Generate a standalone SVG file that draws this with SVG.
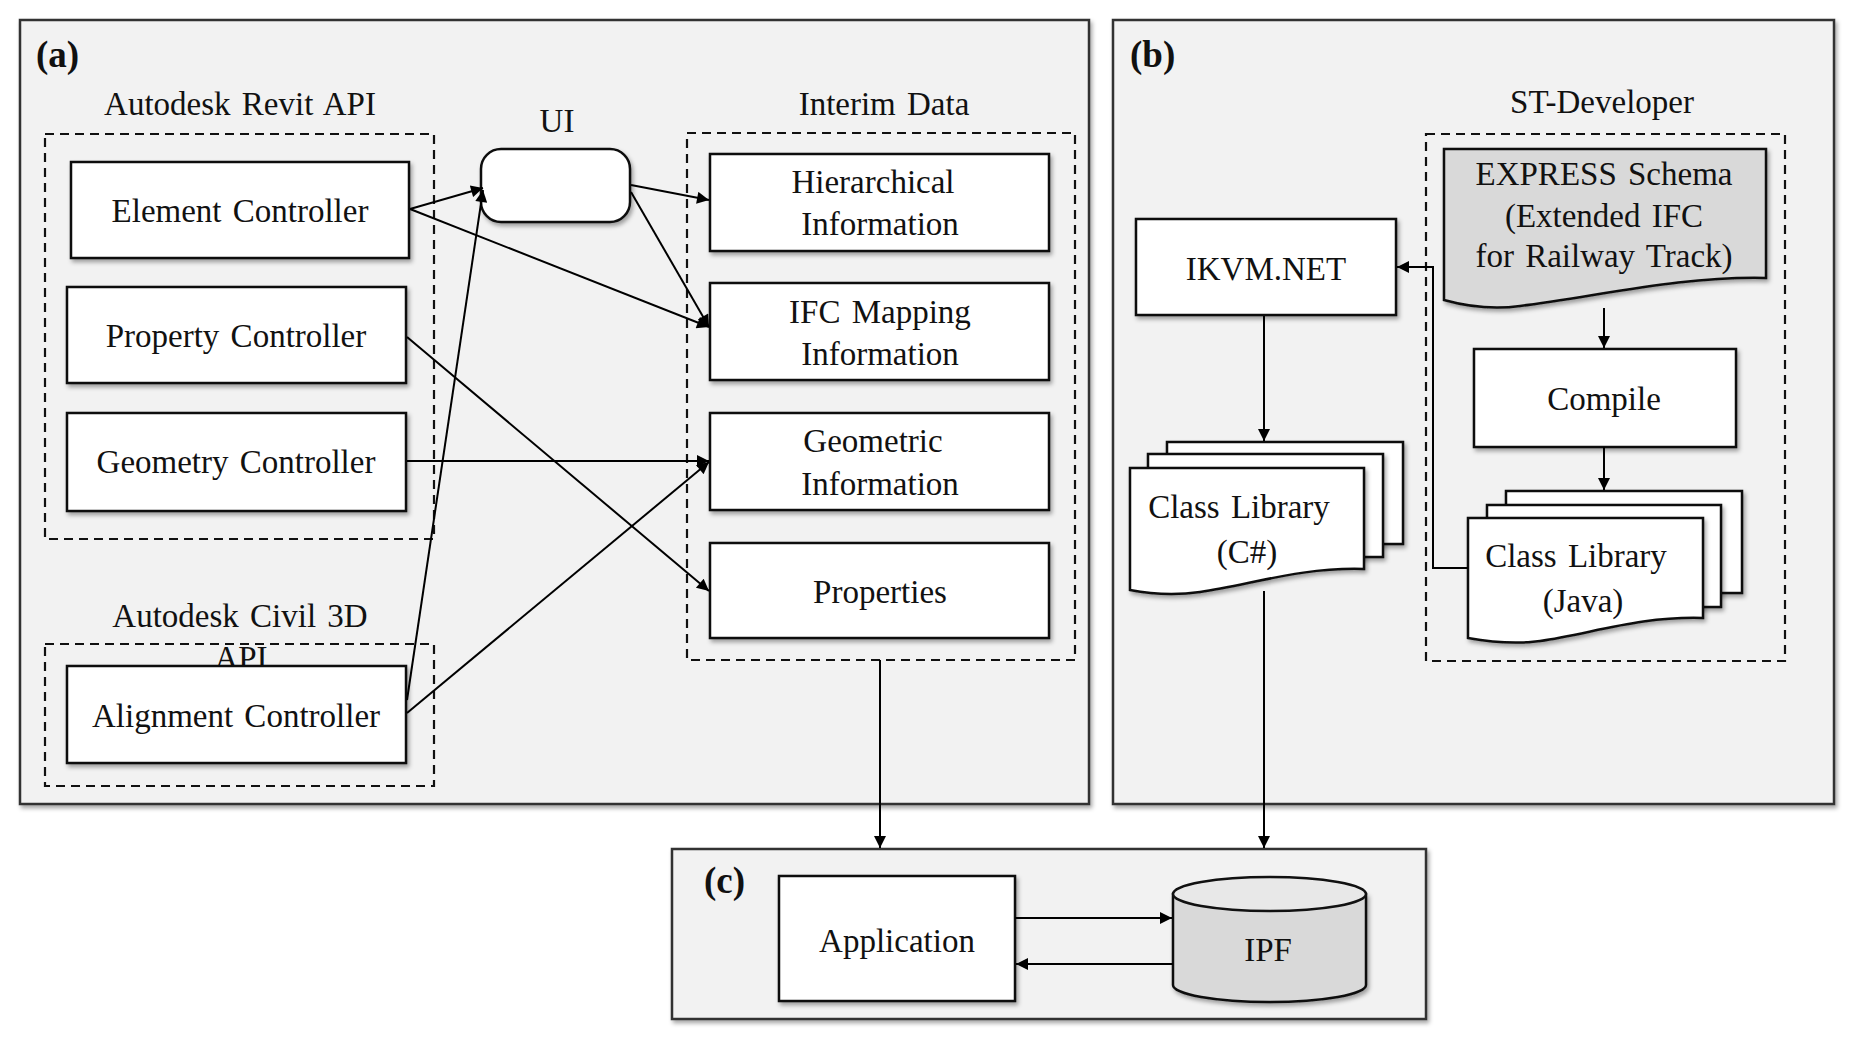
<svg xmlns="http://www.w3.org/2000/svg" width="1854" height="1046" viewBox="0 0 1854 1046">
<defs>
<filter id="sh" x="-10%" y="-10%" width="130%" height="130%">
<feDropShadow dx="2" dy="3" stdDeviation="2" flood-color="#000" flood-opacity="0.35"/>
</filter>
<marker id="ah" viewBox="0 0 10 10" refX="10" refY="5" markerWidth="15" markerHeight="12" markerUnits="userSpaceOnUse" orient="auto">
<path d="M0,0 L10,5 L0,10 z" fill="#000"/>
</marker>
<style>
.panel{fill:#f2f2f2;stroke:#333;stroke-width:2.5;filter:url(#sh)}
.box{fill:#fff;stroke:#111;stroke-width:2.5;filter:url(#sh)}
.gray{fill:#d9d9d9;stroke:#111;stroke-width:2.5;filter:url(#sh)}
.dash{fill:none;stroke:#111;stroke-width:2.2;stroke-dasharray:9,6}
.t{font-family:"Liberation Serif","Times New Roman",serif;font-size:33px;fill:#111;text-anchor:middle;word-spacing:3px}
.lbl{font-family:"Liberation Serif","Times New Roman",serif;font-size:37px;font-weight:bold;fill:#111}
.c{fill:none;stroke:#000;stroke-width:2}
.ca{fill:none;stroke:#000;stroke-width:2;marker-end:url(#ah)}
</style>
</defs>
<rect width="1854" height="1046" fill="#fff"/>

<g id="panel-a">
<rect class="panel" x="20" y="20" width="1069" height="784"/>
<text class="lbl" x="36" y="67">(a)</text>
</g>
<g id="panel-b">
<rect class="panel" x="1113" y="20" width="721" height="784"/>
<text class="lbl" x="1130" y="67">(b)</text>
</g>
<g id="panel-c">
<rect class="panel" x="672" y="849" width="754" height="170"/>
<text class="lbl" x="704" y="893">(c)</text>
</g>

<g id="revit-api">
<text class="t" x="240" y="115">Autodesk Revit API</text>
<rect class="dash" x="45" y="134" width="389" height="405"/>
</g>
<g id="civil3d-api">
<text class="t" x="240" y="627">Autodesk Civil 3D</text>
<text class="t" x="241" y="669">API</text>
<rect class="dash" x="45" y="644" width="389" height="142"/>
</g>
<g id="interim-data">
<text class="t" x="884" y="115">Interim Data</text>
<rect class="dash" x="687" y="133" width="388" height="527"/>
</g>
<g id="st-developer">
<text class="t" x="1602" y="113">ST-Developer</text>
<rect class="dash" x="1426" y="134" width="359" height="527"/>
</g>

<g id="element-controller">
<rect class="box" x="71" y="162" width="338" height="96"/>
<text class="t" x="240" y="222">Element Controller</text>
</g>
<g id="property-controller">
<rect class="box" x="67" y="287" width="339" height="96"/>
<text class="t" x="236" y="347">Property  Controller</text>
</g>
<g id="geometry-controller">
<rect class="box" x="67" y="413" width="339" height="98"/>
<text class="t" x="236" y="473">Geometry  Controller</text>
</g>
<g id="alignment-controller">
<rect class="box" x="67" y="666" width="339" height="97"/>
<text class="t" x="236" y="727">Alignment  Controller</text>
</g>
<g id="ui">
<text class="t" x="557" y="132">UI</text>
<rect class="box" x="481" y="149" width="149" height="73" rx="20" ry="20"/>
</g>
<g id="hierarchical-information">
<rect class="box" x="710" y="154" width="339" height="97"/>
<text class="t" x="873" y="193">Hierarchical</text>
<text class="t" x="880" y="235">Information</text>
</g>
<g id="ifc-mapping-information">
<rect class="box" x="710" y="283" width="339" height="97"/>
<text class="t" x="880" y="323">IFC Mapping</text>
<text class="t" x="880" y="365">Information</text>
</g>
<g id="geometric-information">
<rect class="box" x="710" y="413" width="339" height="97"/>
<text class="t" x="873" y="452">Geometric</text>
<text class="t" x="880" y="495">Information</text>
</g>
<g id="properties">
<rect class="box" x="710" y="543" width="339" height="95"/>
<text class="t" x="880" y="603">Properties</text>
</g>

<g id="ikvm-net">
<rect class="box" x="1136" y="219" width="260" height="96"/>
<text class="t" x="1266" y="280">IKVM.NET</text>
</g>
<g id="express-schema">
<path class="gray" d="M1444,149 H1766 V278 C1680,276 1600,296 1520,306 C1490,310 1462,305 1444,300 Z"/>
<text class="t" x="1604" y="185">EXPRESS Schema</text>
<text class="t" x="1604" y="227">(Extended IFC</text>
<text class="t" x="1604" y="267">for Railway  Track)</text>
</g>
<g id="compile">
<rect class="box" x="1474" y="349" width="262" height="98"/>
<text class="t" x="1604" y="410">Compile</text>
</g>
<g id="class-library-csharp">
<rect class="box" x="1167" y="442" width="236" height="102"/>
<rect class="box" x="1148" y="454" width="235" height="103"/>
<path class="box" d="M1130,468 H1364 V569 C1300,567 1250,585 1200,592 C1170,596 1146,593 1130,590 Z"/>
<text class="t" x="1239" y="518">Class Library</text>
<text class="t" x="1247" y="563">(C#)</text>
</g>
<g id="class-library-java">
<rect class="box" x="1506" y="491" width="236" height="102"/>
<rect class="box" x="1487" y="505" width="234" height="102"/>
<path class="box" d="M1468,518 H1703 V618 C1640,616 1590,634 1540,641 C1510,645 1485,641 1468,638 Z"/>
<text class="t" x="1576" y="567">Class Library</text>
<text class="t" x="1583" y="612">(Java)</text>
</g>
<g id="application">
<rect class="box" x="779" y="876" width="236" height="125"/>
<text class="t" x="897" y="952">Application</text>
</g>
<g id="ipf">
<path class="gray" d="M1173,894 V985 A96.5,17 0 0 0 1366,985 V894 Z"/>
<ellipse cx="1269.5" cy="894" rx="96.5" ry="17" fill="#e8e8e8" stroke="#111" stroke-width="2.5"/>
<text class="t" x="1268" y="961">IPF</text>
</g>

<g id="connectors">
<line class="ca" x1="410" y1="209" x2="483" y2="188"/>
<line class="ca" x1="410" y1="209" x2="709" y2="327"/>
<line class="ca" x1="407" y1="700" x2="483" y2="190"/>
<line class="ca" x1="631" y1="185" x2="709" y2="200"/>
<line class="ca" x1="631" y1="192" x2="709" y2="327"/>
<line class="ca" x1="407" y1="337" x2="709" y2="591"/>
<line class="ca" x1="407" y1="461" x2="709" y2="461"/>
<line class="ca" x1="407" y1="713" x2="709" y2="462"/>
<line class="ca" x1="880" y1="660" x2="880" y2="848"/>
<line class="ca" x1="1604" y1="308" x2="1604" y2="348"/>
<line class="ca" x1="1604" y1="447" x2="1604" y2="490"/>
<line class="ca" x1="1264" y1="316" x2="1264" y2="441"/>
<polyline class="ca" points="1468,568 1433,568 1433,267 1397,267"/>
<line class="ca" x1="1264" y1="591" x2="1264" y2="848"/>
<line class="ca" x1="1015" y1="918" x2="1172" y2="918"/>
<line class="ca" x1="1173" y1="964" x2="1016" y2="964"/>
</g>
</svg>
